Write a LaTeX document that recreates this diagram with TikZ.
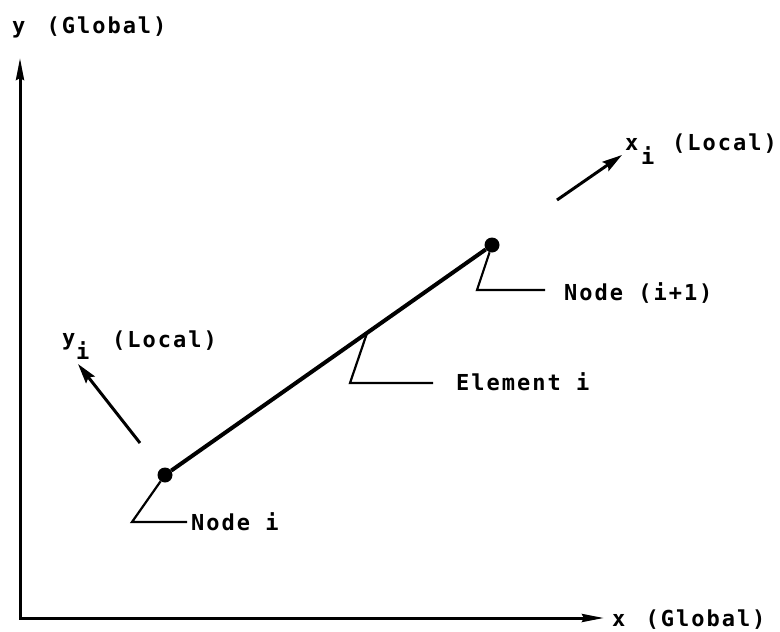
\documentclass[tikz,border=0pt]{standalone}
\usepackage{fontspec}
\newfontfamily\lblfont[LetterSpace=9]{DejaVu Sans Mono Bold}
\usetikzlibrary{arrows.meta,calc}
\begin{document}
\begin{tikzpicture}[x=1pt,y=-1pt,
  lbl/.style={inner sep=0pt,anchor=base west,font=\lblfont\fontsize{22}{26}\selectfont},
  dot/.style={circle,fill=black,inner sep=0pt,minimum size=15pt},
  axis/.style={line width=3pt,line cap=butt,
    {Stealth[length=22pt,width=8pt,inset=2pt]}-{Stealth[length=22pt,width=8pt,inset=2pt]}},
  member/.style={line width=4pt},
  leader/.style={line width=2.2pt,line join=miter},
  dirarrow/.style={line width=3pt,-{Stealth[length=20pt,width=11pt,inset=3pt]}}]
\useasboundingbox (0,0) rectangle (780,632);

% global axes
\coordinate (ytip) at (20,58);
\coordinate (origin) at (20,618);
\coordinate (xtip) at (604,618);
\draw[axis] (ytip) -- (origin) -- (xtip);
\node[lbl] (ylabel) at (12,33) {y\hspace{6pt} (Global)};
\node[lbl] (xlabel) at (612,626) {x\hspace{5pt} (Global)};

% element between its two nodes
\node[dot] (ni) at (165,475) {};
\node[dot] (nip) at (492,245) {};
\draw[member] (ni) -- (nip);

% local axis directions
\coordinate (xit) at (557,200);
\coordinate (xih) at (622,155);
\draw[dirarrow] (xit) -- (xih);
\node[lbl] (xloc) at (625,150) {x};
\node[lbl] (xlocsub) at (641,164) {i};
\node[lbl] (xloctxt) at (672,150) {(Local)};

\coordinate (yit) at (140,443);
\coordinate (yih) at (78,364);
\draw[dirarrow] (yit) -- (yih);
\node[lbl] (yloc) at (62,345) {y};
\node[lbl] (ylocsub) at (76,359) {i};
\node[lbl] (yloctxt) at (112,347) {(Local)};

% leaders and callouts
\coordinate (li1) at (132,522);
\coordinate (li2) at (187,522);
\draw[leader] (ni) -- (li1) -- (li2);
\node[lbl] (nilbl) at (191,530) {Node i};

\coordinate (lp1) at (477,290);
\coordinate (lp2) at (545,290);
\draw[leader] (nip) -- (lp1) -- (lp2);
\node[lbl] (niplbl) at (564,300) {Node (i+1)};

\coordinate (le0) at ($(ni)!0.618!(nip)$);
\coordinate (le1) at (350,383);
\coordinate (le2) at (433,383);
\draw[leader] (le0) -- (le1) -- (le2);
\node[lbl] (elbl) at (456,390) {Element i};
\end{tikzpicture}
\end{document}
